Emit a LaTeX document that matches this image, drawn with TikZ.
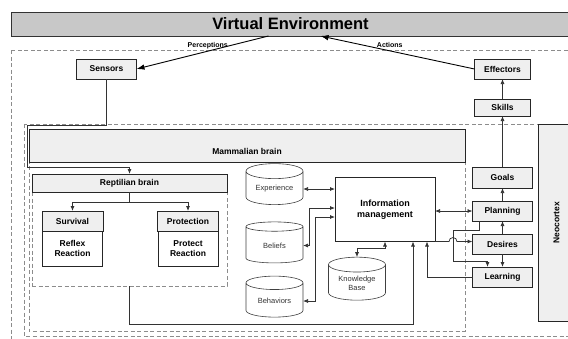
\documentclass[tikz,border=0pt]{standalone}
\usepackage{fontspec}
\setmainfont{Liberation Sans}
\usetikzlibrary{arrows.meta,positioning,calc,shapes.geometric}
\definecolor{envgray}{HTML}{C8C8C8}
\definecolor{boxgray}{HTML}{EFEFEF}
\definecolor{linegray}{HTML}{333333}
\definecolor{dashgray}{HTML}{8C8C8C}
\tikzset{
  >={Latex[length=5pt,width=4pt]},
  % rutor
  envbar/.style={rectangle,draw=black!80,fill=envgray,line width=0.9pt,
             minimum width=559pt,minimum height=24pt,outer sep=0pt,
             font=\fontsize{16.5}{18}\selectfont\bfseries},
  smallbox/.style={rectangle,draw=black!85,fill=boxgray,line width=0.8pt,
             minimum width=60pt,minimum height=20pt,inner sep=1pt,outer sep=0pt,
             font=\fontsize{8.5}{10}\selectfont\bfseries},
  bar/.style={rectangle,draw=black!85,fill=boxgray,line width=0.8pt,inner sep=1pt,
             outer sep=0pt,font=\fontsize{8.5}{10}\selectfont\bfseries},
  hdrbox/.style={smallbox,minimum width=61pt},
  bodybox/.style={smallbox,fill=white,minimum height=35pt,align=center},
  imbox/.style={rectangle,draw=black!85,fill=white,line width=0.8pt,outer sep=0pt,
             minimum width=100pt,minimum height=64pt,align=center,
             font=\fontsize{9}{11}\selectfont\bfseries},
  store/.style={cylinder,shape border rotate=90,shape aspect=0.38,draw=black!75,
             fill=white,line width=0.6pt,minimum width=57pt,minimum height=41pt,
             inner sep=1pt,outer sep=0pt,align=center,text=black!80,
             font=\fontsize{7.5}{9}\selectfont},
  region/.style={draw=dashgray,line width=0.6pt,dash pattern=on 4pt off 2.5pt},
  % pilar
  link/.style={draw=linegray,line width=0.75pt},
  arr/.style={link,->},
  arr2/.style={link,<->},
  big/.style={->,draw=black,line width=0.9pt,>={Latex[length=8pt,width=5.5pt]}},
  tag/.style={font=\fontsize{7}{8}\selectfont\bfseries,inner sep=1pt},
}
\begin{document}
\begin{tikzpicture}[x=1pt,y=-1pt]
\useasboundingbox (0,0) rectangle (568,338);
  % regioner
  \draw[region] (11,50) rectangle (600,360);
  \draw[region] (24,124) rectangle (600,336);
  \draw[region] (29,140) rectangle (465,331);
  \node[region,rectangle,minimum width=195pt,minimum height=112pt,outer sep=0pt] (rept) at (129.5,230) {};
  % miljö
  \node[envbar] (ve) at (290.5,24) {Virtual Environment};
  \node[smallbox] (sensors) at (106.5,69) {Sensors};
  \node[smallbox,minimum width=56pt] (effectors) at (502.5,69) {Effectors};
  \node[smallbox,minimum width=56pt,minimum height=17pt] (skills) at (502.5,107.5) {Skills};
  % hjärnan
  \node[bar,minimum width=436pt,minimum height=33pt] (mamm) at (247,145.5) {};
  \node[bar,draw=none,fill=none] (mammlbl) at ([yshift=-6pt]mamm.center) {Mammalian brain};
  \node[bar,minimum width=195pt,minimum height=18pt] (reptbar) at (129.5,183) {Reptilian brain};
  \node[hdrbox] (surv) at (72.5,221) {Survival};
  \node[bodybox,below=0pt of surv] (survbody) {Reflex\\Reaction};
  \node[hdrbox] (prot) at (188,221) {Protection};
  \node[bodybox,below=0pt of prot] (protbody) {Protect\\Reaction};
  \node[store] (exper) at (274.5,189) {Experience};
  \node[store] (beliefs) at (274.5,245.5) {Beliefs};
  \node[store] (behav) at (274.5,301) {Behaviors};
  \node[store,minimum height=43pt] (kb) at (357,283.5) {Knowledge\\Base};
  \node[imbox] (im) at (385,209.5) {Information\\management};
  \node[smallbox,minimum height=21pt] (goals) at (502.5,177.5) {Goals};
  \node[smallbox] (planning) at (502.5,211) {Planning};
  \node[smallbox] (desires) at (502.5,244) {Desires};
  \node[smallbox] (learning) at (502.5,277) {Learning};
  \node[bar,rotate=90,minimum width=197pt,minimum height=37pt] (neo) at (556.5,222.5) {Neocortex};
  % pilar
  \draw[big] ([xshift=-22pt]ve.south) -- node[tag,pos=0.46,above=1pt] (percl) {Perceptions} (sensors.east);
  \draw[big] (effectors.west) -- node[tag,pos=0.55,above=2pt] (actl) {Actions} ([xshift=30pt]ve.south);
  \draw[arr] (skills) -- (effectors);
  \draw[arr] (goals) -- (skills);
  \draw[arr] (planning) -- (goals);
  \draw[arr] (desires) -- (planning);
  \draw[arr] (desires) -- (learning);
  \draw[arr] (sensors.south) |- (27,125) |- (129.5,167) -- (reptbar.north);
  \draw[link] (reptbar.south) -- ++(0,10) coordinate (split);
  \draw[arr] (split) -| (surv.north);
  \draw[arr] (split) -| (prot.north);
  \draw[arr] (rept.south) -- ++(0,38) -| ([xshift=-22pt]im.south east);
  \draw[arr2] (exper.east) -- (exper.east -| im.west);
  \draw[arr2] (beliefs.east) -- ++(6,0) |- ([yshift=1.5pt]im.west);
  \draw[arr2] (behav.east) -- ++(12,0) |- ([yshift=-7.5pt]im.west);
  \draw[arr2] (kb.north) -- ++(0,-9) -| (im.south);
  \draw[arr2] (im.east |- planning.west) -- (planning.west);
  \draw[arr] ([xshift=-23.5pt]planning.south) -- ++(0,9) -| (453,261) -| ([xshift=-15pt]learning.north);
  \draw[arr] (im.south east) -- (449,241.5) arc[start angle=180,end angle=360,radius=4] -- (desires.west |- im.south east);
  \draw[arr] (learning.west) -| ([xshift=-8pt]im.south east);
\end{tikzpicture}
\end{document}
